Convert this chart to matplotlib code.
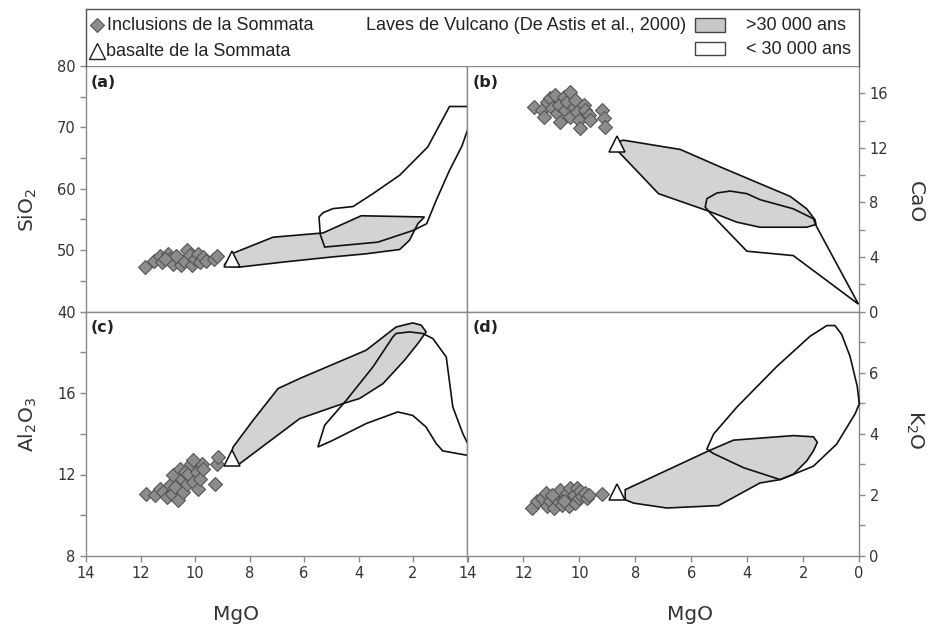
import matplotlib
matplotlib.use("Agg")
import matplotlib.pyplot as plt
from matplotlib.patches import Polygon, Rectangle
from matplotlib.ticker import MultipleLocator, FixedLocator

# --- Sommata inclusions (MgO, oxide) per diagram ---
incl_mgo_a  = [11.84, 11.5, 11.3, 11.2, 11.0, 10.9, 10.8, 10.65, 10.5, 10.4, 10.3, 10.2,
               10.1, 10.0, 9.9, 9.8, 9.7, 9.6, 9.3, 9.2, 10.7, 11.1]
incl_sio2   = [47.3, 48.2, 49.0, 48.0, 49.3, 48.5, 47.7, 48.8, 47.5, 48.3, 50.0, 49.2,
               47.6, 48.5, 49.4, 48.0, 48.8, 48.3, 48.6, 49.0, 49.1, 48.6]

incl_mgo_b  = [11.63, 11.33, 11.27, 11.15, 11.04, 10.98, 10.86, 10.8, 10.74, 10.68, 10.56,
               10.5, 10.44, 10.32, 10.32, 10.2, 10.14, 10.08, 10.02, 9.96, 9.85, 9.79,
               9.67, 9.61, 9.19, 9.13, 9.07]
incl_cao    = [15.02, 14.77, 14.28, 15.39, 15.63, 14.9, 15.88, 14.53, 15.14, 13.91, 15.75,
               14.77, 15.39, 16.12, 14.28, 15.02, 15.51, 14.66, 14.04, 13.42, 15.14, 14.77,
               14.4, 14.04, 14.77, 14.16, 13.55]

incl_mgo_c  = [11.78, 11.47, 11.29, 11.17, 11.04, 10.92, 10.86, 10.8, 10.74, 10.62, 10.56,
               10.49, 10.43, 10.37, 10.31, 10.25, 10.13, 10.07, 9.94, 9.88, 9.82, 9.76,
               9.7, 9.27, 9.21, 9.15, 10.07]
incl_al2o3  = [11.06, 10.98, 11.31, 11.14, 10.9, 11.47, 11.06, 11.96, 11.39, 10.73, 12.29,
               11.8, 11.14, 12.12, 11.55, 12.04, 12.53, 11.63, 12.12, 11.31, 11.8, 12.53,
               12.29, 11.55, 12.53, 12.86, 12.7]

incl_mgo_d  = [11.69, 11.51, 11.33, 11.21, 11.15, 11.04, 10.92, 10.8, 10.74, 10.68, 10.62,
               10.5, 10.44, 10.38, 10.32, 10.26, 10.2, 10.14, 10.08, 10.02, 9.96, 9.9,
               9.79, 9.73, 9.67, 9.19, 10.98, 10.56]
incl_k2o    = [1.57, 1.79, 1.9, 2.06, 1.62, 1.79, 1.57, 1.84, 2.01, 2.17, 1.68, 1.9, 2.06,
               1.62, 2.23, 1.84, 2.01, 1.73, 2.23, 1.9, 2.12, 1.95, 2.06, 1.9, 2.01, 2.03,
               2.01, 1.79]

# --- Sommata basalt ---
bas_mgo = 8.65
bas_sio2, bas_cao, bas_al2o3, bas_k2o = 48.6, 12.3, 12.8, 2.1

# --- Vulcano lava fields (De Astis et al., 2000): (MgO, oxide) outlines ---
old_a = [(8.91, 47.67), (8.6, 49.5), (7.14, 52.1), (5.3, 52.8), (3.9, 55.6), (1.58, 55.4),
         (1.82, 54.3), (2.13, 51.6), (2.49, 50.1), (3.72, 49.4), (4.94, 48.9), (6.77, 48.05),
         (8.36, 47.24), (8.72, 47.35)]
young_a = [(5.45, 55.4), (5.3, 56.1), (4.94, 56.76), (4.2, 57.1), (3.47, 59.2), (2.49, 62.2),
           (1.46, 66.8), (0.66, 73.4), (-0.1, 73.4), (-0.15, 71.5), (0.2, 67.0), (0.66, 63.0),
           (1.15, 58.1), (1.5, 54.3), (2.0, 53.2), (3.29, 51.3), (5.24, 50.5), (5.4, 52.5)]

old_b = [(8.65, 12.44), (8.42, 12.56), (6.39, 11.88), (4.96, 10.6), (3.54, 9.37), (2.46, 8.44),
         (1.87, 7.53), (1.57, 6.72), (1.54, 6.38), (1.87, 6.18), (3.54, 6.18), (4.37, 6.55),
         (5.38, 7.36), (7.17, 8.64), (8.65, 11.83)]
young_b = [(5.5, 7.66), (5.44, 8.27), (5.08, 8.69), (4.61, 8.83), (4.01, 8.64), (3.54, 8.2),
           (2.35, 7.53), (1.63, 6.8), (1.54, 6.31), (0.02, 0.54), (2.35, 4.1), (4.01, 4.42),
           (5.32, 7.21)]

old_c = [(8.72, 12.86), (8.6, 13.35), (7.87, 14.66), (6.95, 16.22), (6.16, 16.71), (3.72, 18.1),
         (2.62, 19.24), (2.01, 19.44), (1.7, 19.33), (1.52, 19.0), (1.82, 18.43), (2.31, 17.61),
         (3.1, 16.46), (3.96, 15.73), (4.57, 15.48), (6.16, 14.74), (8.36, 12.53), (8.6, 12.45)]
young_c = [(2.62, 18.92), (2.13, 19.0), (1.64, 18.92), (1.27, 18.67), (0.78, 17.77), (0.54, 15.32),
           (0.17, 14.0), (-0.07, 13.35), (0.0, 12.94), (0.91, 13.16), (1.15, 13.52), (1.52, 14.33),
           (2.01, 14.9), (2.56, 15.07), (3.72, 14.5), (4.94, 13.68), (5.49, 13.35), (5.24, 14.42),
           (4.45, 15.64), (3.47, 17.28), (2.74, 18.75)]

old_d = [(8.36, 2.17), (5.38, 3.44), (4.49, 3.79), (2.35, 3.94), (1.63, 3.9), (1.49, 3.72),
         (1.63, 3.44), (1.87, 3.11), (2.35, 2.67), (2.82, 2.5), (3.54, 2.39), (5.02, 1.65),
         (6.87, 1.57), (8.06, 1.73), (8.36, 1.84)]
young_d = [(5.44, 3.5), (5.2, 3.99), (4.37, 4.87), (2.94, 6.2), (1.75, 7.19), (1.15, 7.54),
           (0.86, 7.54), (0.62, 7.25), (0.32, 6.53), (0.06, 5.54), (-0.01, 4.98), (0.14, 4.65),
           (0.8, 3.66), (1.63, 2.94), (2.35, 2.67), (2.82, 2.5), (4.13, 2.89), (5.2, 3.35)]

GREY_FILL = "#d3d3d3"
SPINE = "#8a8a8a"
TXT = "#333333"

fig = plt.figure(figsize=(9.29, 6.27), dpi=100)
W, H = 929.0, 627.0

def px_axes(x0, x1, y0, y1):
    return fig.add_axes([x0 / W, 1 - y1 / H, (x1 - x0) / W, (y1 - y0) / H])

ax_a = px_axes(86, 467.5, 66, 311.5)
ax_b = px_axes(467.5, 859, 66, 311.5)
ax_c = px_axes(86, 467.5, 311.5, 556)
ax_d = px_axes(467.5, 859, 311.5, 556)

panels = [
    (ax_a, incl_mgo_a, incl_sio2, bas_sio2, old_a, young_a, "(a)"),
    (ax_b, incl_mgo_b, incl_cao, bas_cao, old_b, young_b, "(b)"),
    (ax_c, incl_mgo_c, incl_al2o3, bas_al2o3, old_c, young_c, "(c)"),
    (ax_d, incl_mgo_d, incl_k2o, bas_k2o, old_d, young_d, "(d)"),
]

for ax, mx, oy, by, old, young, tag in panels:
    ax.add_patch(Polygon(old, closed=True, facecolor=GREY_FILL, edgecolor="#111111",
                         lw=1.2, zorder=2, clip_on=False))
    ax.add_patch(Polygon(young, closed=True, facecolor="none", edgecolor="#111111",
                         lw=1.2, zorder=3, clip_on=False))
    ax.plot(mx, oy, ls="none", marker="D", ms=7.5, mfc="#8c8c8c", mec="#555555",
            mew=0.8, zorder=4, clip_on=False)
    ax.plot([bas_mgo], [by], ls="none", marker="^", ms=12, mfc="white", mec="#111111",
            mew=1.1, zorder=5, clip_on=False)
    ax.text(0.012, 0.965, tag, transform=ax.transAxes, ha="left", va="top",
            fontsize=11.5, fontweight="bold", color="#222222")
    ax.set_xlim(14, 0)
    for s in ax.spines.values():
        s.set_color(SPINE)
        s.set_linewidth(1.0)
    ax.tick_params(which="both", direction="out", length=4, width=1, color=SPINE,
                   labelsize=10.5, labelcolor=TXT)
    ax.xaxis.set_major_locator(MultipleLocator(2))

# y ranges and ticks
ax_a.set_ylim(40, 80)
ax_a.yaxis.set_major_locator(MultipleLocator(10))
ax_a.yaxis.set_minor_locator(MultipleLocator(5))

ax_c.set_ylim(8, 20)
ax_c.yaxis.set_major_locator(FixedLocator([8, 12, 16]))
ax_c.yaxis.set_minor_locator(FixedLocator([10, 14, 18]))

ax_b.set_ylim(0, 18)
ax_b.yaxis.set_major_locator(FixedLocator([0, 4, 8, 12, 16]))
ax_b.yaxis.set_minor_locator(FixedLocator([2, 6, 10, 14]))

ax_d.set_ylim(0, 8)
ax_d.yaxis.set_major_locator(FixedLocator([0, 2, 4, 6]))
ax_d.yaxis.set_minor_locator(FixedLocator([1, 3, 5, 7]))

for ax in (ax_b, ax_d):
    ax.yaxis.tick_right()
    ax.yaxis.set_label_position("right")

for ax in (ax_a, ax_b):
    ax.tick_params(axis="x", labelbottom=False)

ax_c.xaxis.set_major_locator(FixedLocator([14, 12, 10, 8, 6, 4, 2]))
ax_c.xaxis.set_minor_locator(FixedLocator([0]))

# axis titles
fig.text(28 / W, 1 - 210 / H, "SiO$_2$", rotation=90, ha="center", va="center",
         fontsize=14.5, color=TXT)
fig.text(28 / W, 1 - 425 / H, "Al$_2$O$_3$", rotation=90, ha="center", va="center",
         fontsize=14.5, color=TXT)
fig.text(915 / W, 1 - 202 / H, "CaO", rotation=270, ha="center", va="center",
         fontsize=14.5, color=TXT)
fig.text(915 / W, 1 - 430 / H, "K$_2$O", rotation=270, ha="center", va="center",
         fontsize=14.5, color=TXT)
fig.text(236 / W, 1 - 614 / H, "MgO", ha="center", va="center", fontsize=14.5, color=TXT)
fig.text(690 / W, 1 - 614 / H, "MgO", ha="center", va="center", fontsize=14.5, color=TXT)

# key box above the panels
ax_k = px_axes(86, 859, 9, 66)
ax_k.set_xticks([])
ax_k.set_yticks([])
for s in ax_k.spines.values():
    s.set_color("#555555")
    s.set_linewidth(1.0)
ax_k.spines["bottom"].set_visible(False)

def kx(px):
    return (px - 86) / 773.0

def ky(py):
    return (66 - py) / 57.0

kfont = dict(fontsize=13, color="#222222", family=["Liberation Sans", "DejaVu Sans"],
             va="center", transform=ax_k.transAxes)
ax_k.plot([kx(97)], [ky(25)], transform=ax_k.transAxes, marker="D", ms=7, mfc="#8c8c8c",
          mec="#555555", mew=0.8, ls="none", clip_on=False)
ax_k.text(kx(107), ky(25), "Inclusions de la Sommata", ha="left", **kfont)
ax_k.plot([kx(97)], [ky(51)], transform=ax_k.transAxes, marker="^", ms=11, mfc="white",
          mec="#222222", mew=1.0, ls="none", clip_on=False)
ax_k.text(kx(106), ky(51), "basalte de la Sommata", ha="left", **kfont)
ax_k.text(kx(686), ky(25), "Laves de Vulcano (De Astis et al., 2000)", ha="right", **kfont)
ax_k.add_patch(Rectangle((kx(695), ky(32)), kx(725) - kx(695), ky(18) - ky(32),
                         transform=ax_k.transAxes, facecolor="#c8c8c8", edgecolor="#444444",
                         lw=1.0))
ax_k.add_patch(Rectangle((kx(695), ky(55)), kx(725) - kx(695), ky(42) - ky(55),
                         transform=ax_k.transAxes, facecolor="white", edgecolor="#444444",
                         lw=1.0))
ax_k.text(kx(746), ky(25), ">30 000 ans", ha="left", **kfont)
ax_k.text(kx(746), ky(49), "< 30 000 ans", ha="left", **kfont)

fig.savefig("out.png", dpi=100)
